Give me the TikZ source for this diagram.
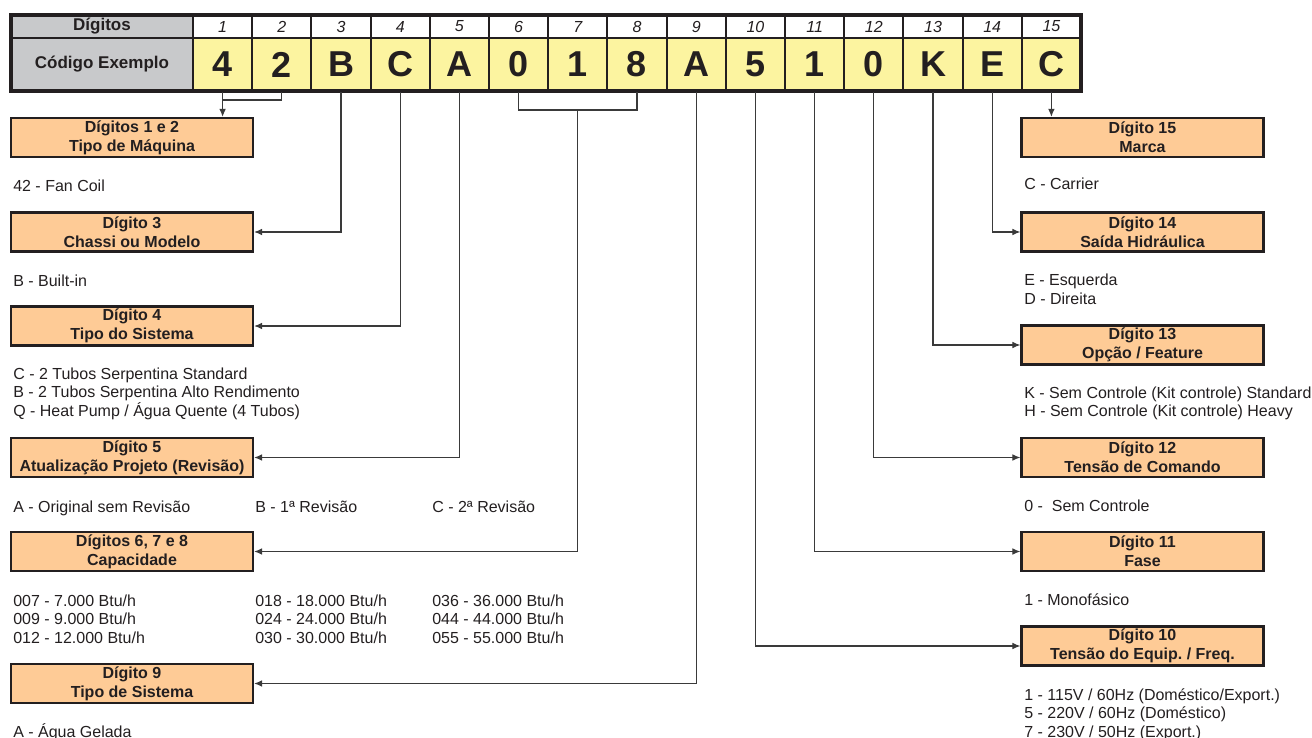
\documentclass[tikz,border=0pt]{standalone}
\usepackage{fontspec}
\setmainfont{Liberation Sans}
\usetikzlibrary{arrows.meta}
\definecolor{ink}{HTML}{231F20}
\definecolor{grayc}{HTML}{C8C9CB}
\definecolor{yel}{HTML}{FCF4A0}
\definecolor{org}{HTML}{FECB96}
\definecolor{wirec}{HTML}{3A3A3A}
\frenchspacing
\begin{document}
\begin{tikzpicture}[x=0.75pt,y=-0.75pt,
 every node/.style={inner sep=0pt, text=ink},
 grid/.style={draw=ink, line width=1.6pt},
 hdr/.style={grid, fill=white, minimum width=44.4pt, minimum height=17.25pt, font=\fontsize{12}{14}\selectfont\itshape},
 code/.style={grid, fill=yel, minimum width=44.4pt, minimum height=39.75pt, font=\fontsize{27}{30}\selectfont\bfseries},
 lab/.style={grid, fill=grayc, minimum width=136.5pt, font=\fontsize{12.75}{15}\selectfont\bfseries},
 digbox/.style={draw=ink, line width=1.7pt, fill=org, minimum width=181.5pt, minimum height=29.25pt, align=center, font=\fontsize{12}{14.25}\selectfont\bfseries},
 opt/.style={anchor=base west, align=left, font=\fontsize{12}{13.875}\selectfont},
 wire/.style={draw=wirec, line width=0.8pt},
 arr/.style={wire, -{Latex[length=6pt,width=5pt]}},
]
\useasboundingbox (0,0) rectangle (1312,738);

% ---- table ----
\node[lab, minimum height=17.25pt] (lh) at (102,26.5) {Dígitos};
\node[lab, minimum height=39.75pt] (lc) at (102,64.5) {Código Exemplo};
\foreach \i/\ch in {1/4,2/2,3/B,4/C,5/A,6/0,7/1,8/8,9/A,10/5,11/1,12/0,13/K,14/E,15/C}{
  \node[hdr] (h\i) at ({193+59.2*(\i-0.5)},26.5) {\i};
  \node[code] (c\i) at ({193+59.2*(\i-0.5)},64.5) {\ch};
}
\draw[draw=ink, line width=2.3pt] (11,15) rectangle (1081,91);

% ---- left boxes ----
\node[digbox] (b12) at (132,137.5) {Dígitos 1 e 2\\Tipo de Máquina};
\node[digbox] (b3) at (132,232) {Dígito 3\\Chassi ou Modelo};
\node[digbox] (b4) at (132,326) {Dígito 4\\Tipo do Sistema};
\node[digbox] (b5) at (132,457.5) {Dígito 5\\Atualização Projeto (Revisão)};
\node[digbox] (b68) at (132,551.5) {Dígitos 6, 7 e 8\\Capacidade};
\node[digbox] (b9) at (132,683.5) {Dígito 9\\Tipo de Sistema};

% ---- right boxes ----
\node[digbox] (r15) at (1142.5,137.5) {Dígito 15\\Marca};
\node[digbox] (r14) at (1142.5,232) {Dígito 14\\Saída Hidráulica};
\node[digbox] (r13) at (1142.5,345) {Dígito 13\\Opção / Feature};
\node[digbox] (r12) at (1142.5,457.5) {Dígito 12\\Tensão de Comando};
\node[digbox] (r11) at (1142.5,551.5) {Dígito 11\\Fase};
\node[digbox] (r10) at (1142.5,646) {Dígito 10\\Tensão do Equip. / Freq.};

% ---- option texts, left (multi-line: anchor on last line's baseline) ----
\node[opt] (t12) at (13,191) {42 - Fan Coil};
\node[opt] (t3) at (13,286) {B - Built-in};
\node[opt] (t4) at (13,416) {C - 2 Tubos Serpentina Standard\\B - 2 Tubos Serpentina Alto Rendimento\\Q - Heat Pump / Água Quente (4 Tubos)};
\node[opt] (t5a) at (13,512) {A - Original sem Revisão};
\node[opt] (t5b) at (255,512) {B - 1ª Revisão};
\node[opt] (t5c) at (432,512) {C - 2ª Revisão};
\node[opt] (t6a) at (13,643) {007 - 7.000 Btu/h\\009 - 9.000 Btu/h\\012 - 12.000 Btu/h};
\node[opt] (t6b) at (255,643) {018 - 18.000 Btu/h\\024 - 24.000 Btu/h\\030 - 30.000 Btu/h};
\node[opt] (t6c) at (432,643) {036 - 36.000 Btu/h\\044 - 44.000 Btu/h\\055 - 55.000 Btu/h};
\node[opt] (t9) at (13,737) {A - Água Gelada};

% ---- option texts, right ----
\node[opt] (u15) at (1024,190) {C - Carrier};
\node[opt] (u14) at (1024,304) {E - Esquerda\\D - Direita};
\node[opt] (u13) at (1024,416.5) {K - Sem Controle (Kit controle) Standard\\H - Sem Controle (Kit controle) Heavy};
\node[opt] (u12) at (1024,511.5) {0 -\ \ Sem Controle};
\node[opt] (u11) at (1024,605.5) {1 - Monofásico};
\node[opt] (u10) at (1024,737) {1 - 115V / 60Hz (Doméstico/Export.)\\5 - 220V / 60Hz (Doméstico)\\7 - 230V / 50Hz (Export.)};

% ---- connectors ----
\coordinate (y100) at (0,100);
\coordinate (y110) at (0,110);
\coordinate (k12) at (c1.south |- y100);
\coordinate (k68) at (c7.south |- y110);
\draw[arr] (c1.south) -- (c1.south |- b12.north);
\draw[wire] (c2.south) |- (k12);
\draw[arr] (c3.south) |- (b3.east);
\draw[arr] (c4.south) |- (b4.east);
\draw[arr] (c5.south) |- (b5.east);
\draw[wire] (c6.south) |- (k68) -| (c8.south);
\draw[arr] (k68) |- (b68.east);
\draw[arr] (c9.south) |- (b9.east);
\draw[arr] (c10.south) |- (r10.west);
\draw[arr] (c11.south) |- (r11.west);
\draw[arr] (c12.south) |- (r12.west);
\draw[arr] (c13.south) |- (r13.west);
\draw[arr] (c14.south) |- (r14.west);
\draw[arr] (c15.south) -- (c15.south |- r15.north);
\end{tikzpicture}
\end{document}
